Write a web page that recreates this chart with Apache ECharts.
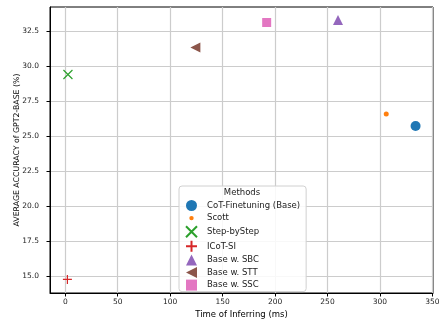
<!DOCTYPE html>
<html><head><meta charset="utf-8">
<script src="https://cdn.jsdelivr.net/npm/echarts@6/dist/echarts.min.js"></script>
<style>html,body{margin:0;padding:0;background:#fff}#c{width:440px;height:323px}</style>
</head><body><div id="c"></div>
<script>
const methods = ['CoT-Finetuning (Base)','Scott','Step-byStep','ICoT-SI','Base w. SBC','Base w. STT','Base w. SSC'];
const timeMs = [334, 306, 2.5, 2, 260, 124, 192];
const accuracy = [25.72, 26.57, 29.4, 14.74, 33.3, 31.33, 33.12];
const xTicks = [0,50,100,150,200,250,300,350];
const yTicks = [15.0,17.5,20.0,22.5,25.0,27.5,30.0,32.5];

const colors = ['#1f77b4','#ff7f0e','#2ca02c','#d62728','#9467bd','#8c564b','#e377c2'];
const xPath = 'path://M0,0L10,10M10,0L0,10';
const plusPath = 'path://M5,0L5,10M0,5L10,5';
const styles = [
  {symbol:'circle', size:10},
  {symbol:'circle', size:5},
  {symbol:xPath, size:9, stroke:true},
  {symbol:plusPath, size:9, stroke:true},
  {symbol:'triangle', size:10},
  {symbol:'triangle', size:10, rotate:90},
  {symbol:'rect', size:9}
];
const legendIcons = [
  'circle',
  'path://M0,0M10,10M3,5a2,2 0 1,0 4,0a2,2 0 1,0 -4,0',
  xPath, plusPath, 'triangle',
  'path://M0,5L10,0L10,10Z',
  'rect'
];

const series = methods.map((m,i)=>{
  const s = styles[i];
  const item = s.stroke ? {color:'transparent', borderColor:colors[i], borderWidth:1.2, opacity:1}
                        : {color:colors[i], opacity:1};
  return {
    name:m, type:'scatter', data:[[timeMs[i], accuracy[i]]],
    symbol:s.symbol, symbolSize:s.size, symbolRotate:s.rotate||0,
    itemStyle:item, emphasis:{disabled:true}, z:3
  };
});

const chart = echarts.init(document.getElementById('c'), null, {renderer:'canvas'});
const font = 'DejaVu Sans';
chart.setOption({
  animation:false,
  color:colors,
  textStyle:{fontFamily:font},
  grid:{left:50, right:7, top:7, bottom:30, show:true, borderColor:'#000', borderWidth:1,
        containLabel:false, outerBoundsMode:'none'},
  xAxis:{
    type:'value', min:-14.6, max:350.6,
    name:'Time of Inferring (ms)', nameLocation:'middle', nameGap:17, nameMoveOverlap:false,
    nameTextStyle:{fontSize:8.5, color:'#000', fontFamily:font},
    axisLine:{show:true, onZero:false, lineStyle:{color:'#000', width:1}},
    axisTick:{show:true, length:3.5, inside:false, customValues:xTicks, lineStyle:{color:'#000'}},
    axisLabel:{customValues:xTicks, fontSize:7.5, color:'#222', margin:5.5, fontFamily:font},
    splitLine:{show:true, lineStyle:{color:'#cccccc', width:1.2}}
  },
  yAxis:{
    type:'value', min:13.77, max:34.23,
    name:'AVERAGE ACCURACY of GPT2-BASE (%)', nameLocation:'middle', nameGap:29, nameMoveOverlap:false,
    nameTextStyle:{fontSize:7.8, color:'#000', fontFamily:font},
    axisLine:{show:true, onZero:false, lineStyle:{color:'#000', width:1}},
    axisTick:{show:true, length:3.5, customValues:yTicks, lineStyle:{color:'#000'}},
    axisLabel:{customValues:yTicks, fontSize:7.5, color:'#222', margin:11, fontFamily:font,
      formatter:v=>Number(v).toFixed(1)},
    splitLine:{show:true, lineStyle:{color:'#cccccc', width:1.2}}
  },
  legend:{
    orient:'vertical', left:179, top:186,
    padding:[14,6,1,6],
    itemWidth:11, itemHeight:11, itemGap:1.6,
    backgroundColor:'rgba(255,255,255,0.85)', borderColor:'#d0d0d0', borderWidth:1, borderRadius:3,
    textStyle:{fontSize:8.5, lineHeight:11, color:'#222', fontFamily:font, padding:[0,0,0,5]},
    data: methods.map((m,i)=>({name:m, icon:legendIcons[i]})),
    selectedMode:false
  },
  graphic:[{type:'text', z:100, x:242, y:192.5,
    style:{text:'Methods', font:'8.5px "DejaVu Sans"', fill:'#222', textAlign:'center', textVerticalAlign:'middle'}}],
  series:series
});
</script></body></html>
